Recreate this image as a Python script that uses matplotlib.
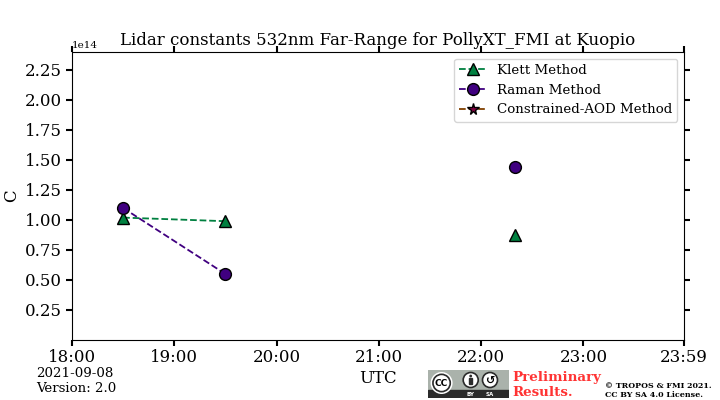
import datetime
import numpy as np
import matplotlib
matplotlib.use('Agg')
import matplotlib.pyplot as plt
import matplotlib.dates as mdates
from matplotlib.patches import Rectangle, Circle


class LidarConstantPlot:

    def __init__(self, day, times, klett, raman, aod):

        # Initialise Data
        self.day = day
        self.times = [day + datetime.timedelta(minutes=m) for m in times]
        self.klett, self.raman, self.aod = klett, raman, aod

        # Initialise Figure parameters
        plt.rcParams['font.family'] = 'DejaVu Serif'
        plt.rcParams['figure.figsize'] = (7.2,4)
        self.fig, self.ax = plt.subplots(dpi=100)
        self.fig.subplots_adjust(left=0.1, right=0.95, top=0.87, bottom=0.15)

        self.plot_lines()
        self.set_axes()
        self.add_footer()
        self.add_logo()

    def plot_lines(self):
        ax=self.ax
        ax.plot(self.times, self.klett, color='#008040', linestyle='--', linewidth=1.3, marker='^',
                markersize=8.5, markeredgecolor='k', markeredgewidth=1, label='Klett Method')
        ax.plot(self.times, self.raman, color='#400080', linestyle='--', linewidth=1.3, marker='o',
                markersize=8.5, markeredgecolor='k', markeredgewidth=1, label='Raman Method')
        ax.plot(self.times, self.aod, color='#804000', linestyle='--', linewidth=1.3, marker='*',
                markersize=8.5, markerfacecolor='#800040', markeredgecolor='k', markeredgewidth=1,
                label='Constrained-AOD Method')
        ax.legend(loc='upper right', fontsize=9.6)

    def set_axes(self):
        ax=self.ax
        ax.set_title('Lidar constants 532nm Far-Range for PollyXT_FMI at Kuopio', fontsize=12, y=1.0, pad=5)
        ax.set_ylabel('C', fontsize=12)
        ax.set_xlabel('UTC', fontsize=12)
        ax.yaxis.set_label_coords(-0.085,0.5)
        ax.xaxis.set_label_coords(0.5,-0.105)

        # Set the limits and the hourly ticks
        start = self.day + datetime.timedelta(hours=18)
        end = self.day + datetime.timedelta(hours=23, minutes=59)
        hours = [self.day + datetime.timedelta(hours=h) for h in range(18,24)] + [end]
        ax.set_xlim(start,end)
        ax.set_ylim(0,2.4e14)
        ax.set_xticks(hours)
        ax.xaxis.set_major_formatter(mdates.DateFormatter('%H:%M'))
        ax.set_yticks(np.arange(0.25,2.5,0.25)*1e14)
        ax.tick_params(axis='both', which='major', labelsize=12, length=4.5, width=1.5,
                       direction='out', top=True, right=True)
        ax.tick_params(axis='x', pad=2)
        ax.tick_params(axis='y', pad=3)
        ax.yaxis.get_offset_text().set_fontsize(7.5)

    def add_footer(self):
        self.fig.text(0.05, 0.012, '2021-09-08\nVersion: 2.0', fontsize=9.6, va='bottom', linespacing=1.25)
        self.fig.text(0.711, 0.002, 'Preliminary\nResults.', fontsize=9.6, color='#ff3333', weight='bold',
                      va='bottom', linespacing=1.2)
        self.fig.text(0.84, 0.002, '\u00a9 TROPOS & FMI 2021.\nCC BY SA 4.0 License.', fontsize=5.7,
                      weight='bold', va='bottom', linespacing=1.25)

    def add_logo(self):
        # Small CC BY SA badge in the footer
        logo = self.fig.add_axes([428/720, 2/400, 81/720, 28/400])
        logo.set_xlim(0,81)
        logo.set_ylim(0,28)
        logo.axis('off')
        logo.add_patch(Rectangle((0,0), 81, 28, color='#aab2ab'))
        logo.add_patch(Rectangle((0,0), 81, 8, color='#2b2b2b'))
        logo.add_patch(Circle((13.6,15), 11, facecolor='w', edgecolor='none'))
        logo.add_patch(Circle((13.6,15), 9.5, facecolor='#2b2b2b', edgecolor='none'))
        logo.add_patch(Circle((13.6,15), 7.8, facecolor='w', edgecolor='none'))
        logo.text(13.6, 14.5, 'CC', fontsize=6.5, weight='bold', ha='center', va='center', family='DejaVu Sans')
        for cx in [42.7,62]:
            logo.add_patch(Circle((cx,18), 7.5, facecolor='w', edgecolor='#2b2b2b', linewidth=1.2))
        logo.add_patch(Circle((42.7,22), 1.4, facecolor='#2b2b2b', edgecolor='none'))
        logo.add_patch(Rectangle((41.2,14), 3, 6.5, color='#2b2b2b'))
        logo.text(62, 17.5, '\u21ba', fontsize=8, weight='bold', ha='center', va='center', family='DejaVu Sans')
        logo.text(42.7, 4, 'BY', fontsize=4, color='w', weight='bold', ha='center', va='center', family='DejaVu Sans')
        logo.text(62, 4, 'SA', fontsize=4, color='w', weight='bold', ha='center', va='center', family='DejaVu Sans')


day = datetime.datetime(2021,9,8)
times = [1110, 1170, 1250, 1340] # minutes of the day, the empty one breaks the line
klett = [1.02e14, 0.99e14, np.nan, 0.875e14]
raman = [1.10e14, 0.55e14, np.nan, 1.44e14]
aod = [np.nan, np.nan, np.nan, np.nan]

plot = LidarConstantPlot(day, times, klett, raman, aod)
plot.fig.savefig('out.png', dpi=100)
